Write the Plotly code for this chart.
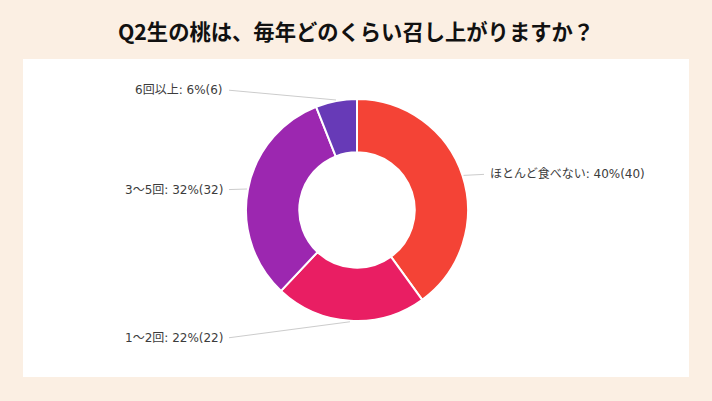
import math
import plotly.graph_objects as go

# 回答データ（Googleフォーム集計）
labels = ["ほとんど食べない", "1〜2回", "3〜5回", "6回以上"]
counts = [40, 22, 32, 6]
colors = ["#f44336", "#e91e63", "#9c27b0", "#673ab7"]
title = "Q2生の桃は、毎年どのくらい召し上がりますか？"

W, H = 712, 401
cx, cy, r = 357, 210, 111  # ドーナツの中心と半径（px）


def px(x):
    return x / W


def py(y):
    return 1 - y / H


fig = go.Figure()
fig.add_trace(go.Pie(
    labels=labels, values=counts, sort=False, direction="clockwise", rotation=0,
    hole=0.52, textinfo="none", hoverinfo="label+percent+value",
    marker=dict(colors=colors, line=dict(color="white", width=2)),
    domain=dict(x=[px(cx - r), px(cx + r)], y=[py(cy + r), py(cy - r)]),
    showlegend=False,
))

# ラベルと引き出し線（各スライスの中央角から計算）
total = sum(counts)
shapes = [dict(type="rect", xref="paper", yref="paper", layer="below",
               x0=px(23), x1=px(689), y0=py(377), y1=py(59),
               fillcolor="white", line=dict(width=0))]
annotations = []
acc = 0
for lab, c in zip(labels, counts):
    mid = (acc + c / 2) / total * 2 * math.pi
    acc += c
    sx, sy = math.sin(mid), -math.cos(mid)
    ex, ey = cx + (r + 1) * sx, cy + (r + 1) * sy
    ly = cy + (r + 14) * sy + 3
    right = sx > 0
    lx = cx + 131 if right else cx - 132
    text = f"{lab}: {round(c / total * 100)}%({c})"
    annotations.append(dict(x=px(lx), y=py(ly), xref="paper", yref="paper", text=text,
                            showarrow=False, xanchor="left" if right else "right",
                            yanchor="middle",
                            font=dict(size=12, color="#3c3c3c",
                                      family="DejaVu Sans, Noto Sans CJK JP, sans-serif")))
    shapes.append(dict(type="line", xref="paper", yref="paper",
                       x0=px(lx - 4 if right else lx + 4), y0=py(ly), x1=px(ex), y1=py(ey),
                       line=dict(color="#cccccc", width=1)))

fig.update_layout(
    width=W, height=H, margin=dict(l=0, r=0, t=0, b=0),
    paper_bgcolor="#fbefe3",
    font=dict(family="Noto Sans CJK JP, sans-serif"),
    title=dict(text=f"<b>{title}</b>", x=0.5, xanchor="center", y=py(33), yanchor="middle",
               font=dict(size=21.3, color="#111")),
    shapes=shapes, annotations=annotations,
)
fig.write_html("out.html", config={"displayModeBar": False},
               post_script="document.body.style.margin='0';")
